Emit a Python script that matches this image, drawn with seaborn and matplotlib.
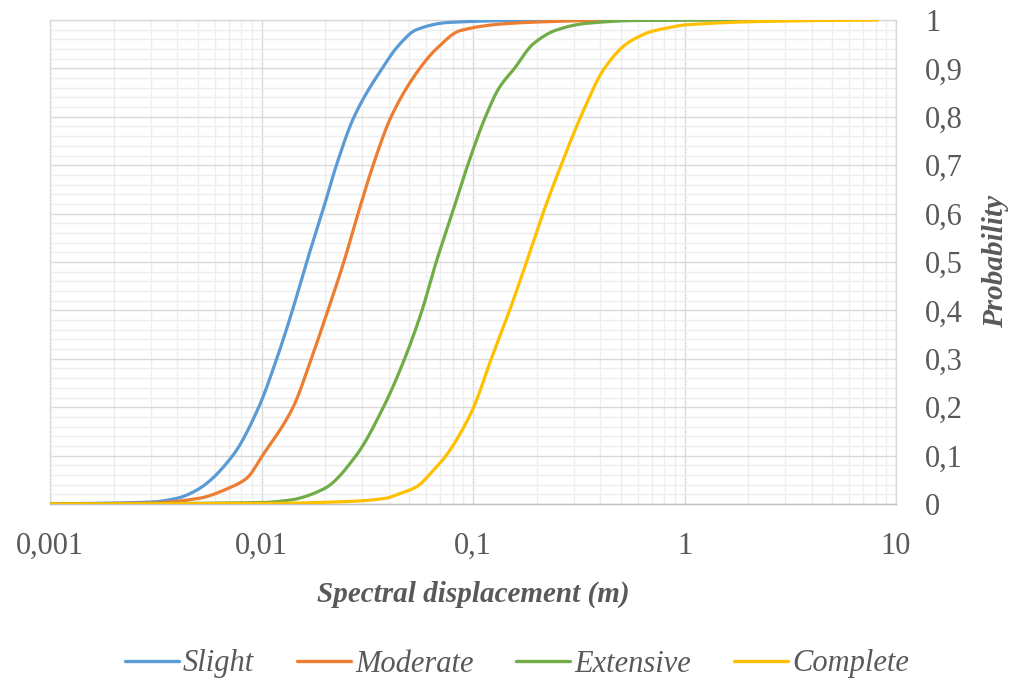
import matplotlib
matplotlib.use("Agg")
import matplotlib.pyplot as plt
from matplotlib.ticker import FixedLocator, LogLocator, MultipleLocator, NullFormatter
from matplotlib.font_manager import FontProperties
import seaborn as sns
import numpy as np
import pandas as pd

# Fragility curves: spectral displacement (m) vs probability of exceedance
slight_x = [0.001, 0.003, 0.004, 0.005, 0.00731, 0.0097, 0.0118, 0.0140, 0.01635,
            0.0193, 0.0226, 0.0274, 0.0372, 0.045, 0.054, 0.077, 0.2, 0.5]
slight_p = [0.0, 0.004, 0.012, 0.03, 0.10, 0.20, 0.30, 0.40, 0.50,
            0.60, 0.70, 0.80, 0.90, 0.95, 0.98, 0.995, 0.9995, 1.0]

moderate_x = [0.001, 0.003, 0.0051, 0.00693, 0.0085, 0.0101, 0.0141, 0.0172, 0.0206,
              0.0245, 0.0286, 0.0337, 0.041, 0.056, 0.067, 0.087, 0.149, 0.4]
moderate_p = [0.0, 0.002, 0.012, 0.032, 0.053, 0.10, 0.20, 0.30, 0.40,
              0.50, 0.60, 0.70, 0.80, 0.90, 0.94, 0.978, 0.993, 1.0]

extensive_x = [0.001, 0.01, 0.01356, 0.01985, 0.028, 0.0377, 0.0475, 0.0574, 0.067,
               0.0796, 0.0944, 0.1145, 0.133, 0.157, 0.192, 0.247, 0.342, 0.6, 2.1]
extensive_p = [0.0, 0.003, 0.008, 0.032, 0.10, 0.20, 0.30, 0.40, 0.50,
               0.60, 0.70, 0.80, 0.86, 0.90, 0.95, 0.979, 0.993, 0.999, 1.0]

complete_x = [0.001, 0.01, 0.0251, 0.0388, 0.0447, 0.0538, 0.0645, 0.0746, 0.0863,
              0.1007, 0.122, 0.149, 0.179, 0.214, 0.261, 0.323, 0.418, 0.529,
              0.611, 0.682, 0.818, 1.016, 3.0, 8.15]
complete_p = [0.0, 0.001, 0.005, 0.012, 0.021, 0.035, 0.068, 0.10, 0.143,
              0.20, 0.30, 0.40, 0.50, 0.60, 0.70, 0.80, 0.90, 0.95,
              0.966, 0.975, 0.983, 0.99, 0.998, 1.0]

stages = ["Slight", "Moderate", "Extensive", "Complete"]
stage_colors = ["#5B9BD5", "#ED7D31", "#70AD47", "#FFC000"]

x_ticks = [0.001, 0.01, 0.1, 1, 10]
x_tick_labels = ["0,001", "0,01", "0,1", "1", "10"]
y_ticks = [0, 0.1, 0.2, 0.3, 0.4, 0.5, 0.6, 0.7, 0.8, 0.9, 1.0]
y_tick_labels = ["0", "0,1", "0,2", "0,3", "0,4", "0,5", "0,6", "0,7", "0,8", "0,9", "1"]


def smooth_path(xs, ps, per_seg=30):
    """Monotone cubic (Fritsch-Carlson) path through the points, in log-x space,
    used only to render the curves as smoothed lines."""
    u = np.log10(np.asarray(xs, float))
    v = np.asarray(ps, float)
    h = np.diff(u)
    d = np.diff(v) / h
    m = np.zeros_like(v)
    m[0], m[-1] = d[0], d[-1]
    for k in range(1, len(v) - 1):
        if d[k - 1] * d[k] <= 0:
            m[k] = 0.0
        else:
            w1 = 2 * h[k] + h[k - 1]
            w2 = h[k] + 2 * h[k - 1]
            m[k] = (w1 + w2) / (w1 / d[k - 1] + w2 / d[k])
    uu, vv = [], []
    for k in range(len(h)):
        t = np.linspace(0, 1, per_seg, endpoint=(k == len(h) - 1))
        h00 = 2 * t**3 - 3 * t**2 + 1
        h10 = t**3 - 2 * t**2 + t
        h01 = -2 * t**3 + 3 * t**2
        h11 = t**3 - t**2
        uu.append(u[k] + t * h[k])
        vv.append(h00 * v[k] + h10 * h[k] * m[k] + h01 * v[k + 1] + h11 * h[k] * m[k + 1])
    return 10 ** np.concatenate(uu), np.clip(np.concatenate(vv), 0, 1)


frames = []
for name, xs, ps in zip(stages,
                        [slight_x, moderate_x, extensive_x, complete_x],
                        [slight_p, moderate_p, extensive_p, complete_p]):
    sx, sp = smooth_path(xs, ps)
    frames.append(pd.DataFrame({"Sd": sx, "P": sp, "Stage": name}))
df = pd.concat(frames, ignore_index=True)

sns.set_theme(style="white")
plt.rcParams["font.family"] = ["Liberation Serif", "DejaVu Serif"]

text_color = "#595959"

fig = plt.figure(figsize=(10.15, 6.84), dpi=100)
ax = fig.add_axes([50 / 1015, 1 - 504 / 684, (896 - 50) / 1015, (504 - 20) / 684])

ax.set_xscale("log")
ax.set_xlim(0.001, 10)
ax.set_ylim(0, 1)

# grid: light minor lines, slightly darker major lines
ax.xaxis.set_minor_locator(LogLocator(base=10, subs=range(2, 10), numticks=20))
ax.xaxis.set_minor_formatter(NullFormatter())
ax.yaxis.set_minor_locator(MultipleLocator(0.02))
ax.grid(which="minor", color="#eeeeee", linewidth=1.0, zorder=0)
ax.grid(which="major", color="#d9d9d9", linewidth=1.0, zorder=0)
ax.set_axisbelow(True)

sns.lineplot(data=df, x="Sd", y="P", hue="Stage", hue_order=stages,
             palette=stage_colors, estimator=None, sort=False,
             linewidth=2.3, ax=ax, legend=False, zorder=3)

for side in ["left", "right", "top", "bottom"]:
    ax.spines[side].set_color("#d9d9d9")
    ax.spines[side].set_linewidth(1.0)
ax.spines["bottom"].set_color("#bfbfbf")

ax.xaxis.set_major_locator(FixedLocator(x_ticks))
ax.set_xticklabels(x_tick_labels)
ax.yaxis.tick_right()
ax.yaxis.set_major_locator(FixedLocator(y_ticks))
ax.set_yticklabels(y_tick_labels)
ax.tick_params(axis="both", which="both", length=0, labelsize=22, colors=text_color)
ax.tick_params(axis="y", pad=21)
ax.tick_params(axis="x", pad=20)

ax.set_xlabel("Spectral displacement (m)", fontsize=21, fontweight="bold",
              fontstyle="italic", color=text_color, labelpad=14)
ax.yaxis.set_label_position("right")
ax.set_ylabel("Probability", fontsize=21, fontweight="bold",
              fontstyle="italic", color=text_color, labelpad=14)

handles = [plt.Line2D([], [], color=c, linewidth=2.4) for c in stage_colors]
fig.legend(handles, stages, loc="center", bbox_to_anchor=(517 / 1015, 1 - 664 / 684),
           ncol=4, frameon=False,
           prop=FontProperties(family="Liberation Serif", style="italic", size=22),
           labelcolor=text_color, handlelength=1.75, handletextpad=0.15,
           columnspacing=1.4)

fig.savefig("out.png", dpi=100, facecolor="white")
